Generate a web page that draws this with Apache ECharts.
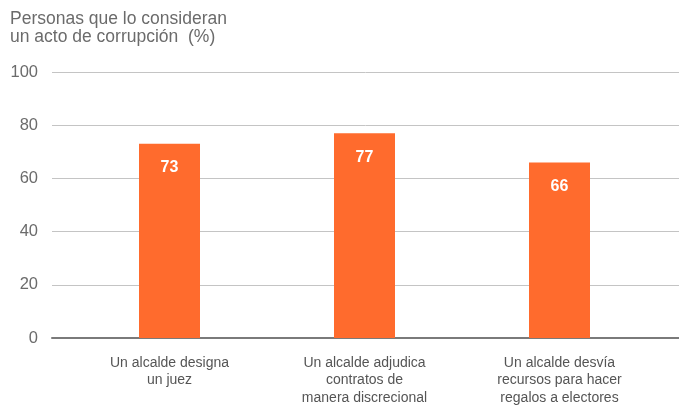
<!DOCTYPE html>
<html><head><meta charset="utf-8">
<script src="https://cdn.jsdelivr.net/npm/echarts@6/dist/echarts.min.js"></script>
<style>html,body{margin:0;padding:0;background:#fff}#c{width:679px;height:407px}</style>
</head><body><div id="c"></div>
<script>
const categories = ['Un alcalde designa\nun juez', 'Un alcalde adjudica\ncontratos de\nmanera discrecional', 'Un alcalde desvía\nrecursos para hacer\nregalos a electores'];
const values = [73, 77, 66];
const yTicks = [0, 20, 40, 60, 80, 100];
const titleText = 'Personas que lo consideran\nun acto de corrupción  (%)';

const font = 'Liberation Sans, Arial, Helvetica, sans-serif';
const chart = echarts.init(document.getElementById('c'), null, {renderer: 'canvas'});
chart.setOption({
  animation: false,
  title: {text: titleText, left: 5, top: 5, textStyle: {fontFamily: font, fontSize: 17.5, fontWeight: 'normal', color: '#6b6b6b', lineHeight: 18}},
  grid: [
    {left: 52, right: 0, top: 72, bottom: 69},
    {left: 72, right: 22, top: 72, bottom: 69}
  ],
  xAxis: [
    {gridIndex: 0, type: 'category', data: [''], axisLine: {show: true, lineStyle: {color: '#7a7a7a', width: 2}}, axisTick: {show: false}, axisLabel: {show: false}},
    {gridIndex: 1, type: 'category', data: categories, axisLine: {show: false}, axisTick: {show: false},
     axisLabel: {margin: 16, fontFamily: font, fontSize: 14, color: '#555', lineHeight: 17.5, interval: 0}}
  ],
  yAxis: [
    {gridIndex: 0, type: 'value', min: yTicks[0], max: yTicks[yTicks.length-1], interval: 20,
     axisLine: {show: false}, axisTick: {show: false},
     axisLabel: {margin: 14, fontFamily: font, fontSize: 16.5, color: '#6b6b6b'},
     splitLine: {lineStyle: {color: '#c4c4c4', width: 1}}},
    {gridIndex: 1, type: 'value', min: 0, max: 100, show: false, splitLine: {show: false}}
  ],
  series: [{
    type: 'bar', xAxisIndex: 1, yAxisIndex: 1, data: values, barWidth: 61,
    itemStyle: {color: '#FF6B2D'},
    label: {show: true, position: 'insideTop', distance: 16, color: '#fff', fontFamily: font, fontSize: 16, fontWeight: 'bold'}
  }]
});
</script></body></html>
